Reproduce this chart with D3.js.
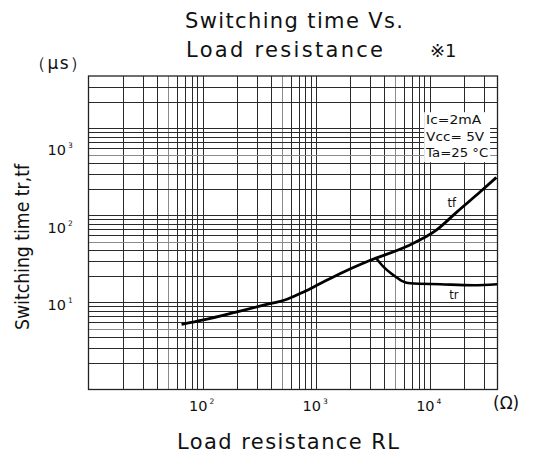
<!DOCTYPE html>
<html>
<head>
<meta charset="utf-8">
<script src="https://cdn.jsdelivr.net/npm/d3@7"></script>
<style>
  body { margin: 0; background: #fff; }
  svg { display: block; }
  text { font-family: "DejaVu Sans", "Noto Sans", sans-serif; fill: #111; }
</style>
</head>
<body>
<svg id="drawing_region"></svg>
<script>
// load resistance (ohm) and switching time (us)
const tfRes  = [66, 103, 203, 348, 560, 784, 1100, 1765, 3034, 6385, 11560, 17600, 28200, 39100];
const tfTime = [5.6, 6.3, 7.8, 9.3, 10.9, 13.2, 16.5, 22.4, 30.5, 44.3, 67.6, 110, 187, 273];
const trRes  = [3430, 3970, 4865, 5800, 6820, 12530, 24660, 39600];
const trTime = [32, 25.6, 20.5, 17.6, 16.6, 16.2, 15.8, 16.2];

const xTicks = [100, 1000, 10000];
const xTickExp = ["2", "3", "4"];
const yTicks = [10, 100, 1000];
const yTickExp = ["1", "2", "3"];
const conditions = ["Ic=2mA", "Vcc= 5V", "Ta=25 °C"];

const width = 534, height = 454;
const margin = {top: 76, right: 36.5, bottom: 64.5, left: 88.5};
const innerW = width - margin.left - margin.right;
const innerH = height - margin.top - margin.bottom;

const svg = d3.select('#drawing_region')
    .attr('width', width)
    .attr('height', height);

const chart = svg.append('g')
    .attr('transform', `translate(${margin.left}, ${margin.top})`);

const xscale = d3.scaleLog().domain([10, 40000]).range([0, innerW]);
const yscale = d3.scaleLog().domain([1, 4000]).range([innerH, 0]);
// the printed tick labels sit a bit off the decade lines in the original
const ylabelscale = d3.scaleLog().domain([10, 1000]).range([305 - margin.top, 150 - margin.top]);

// grid values 1..9 x 10^k inside the domain
function gridValues(lo, hi) {
    let vals = [];
    for (let k = -1; k <= 6; k++) {
        for (let m = 1; m <= 9; m++) {
            let v = m * Math.pow(10, k);
            if (v > lo * 1.0001 && v < hi * 0.9999) vals.push(v);
        }
    }
    return vals;
}
const xGrid = gridValues(10, 40000);
const yGrid = gridValues(1, 4000);
const gridColor = v => (String(v)[0] === '5') ? '#8a8a8a' : '#2a2a2a';

chart.selectAll('.vgrid')
    .data(xGrid)
    .enter()
    .append('line')
    .attr('x1', d => Math.round(xscale(d)) + 0.5)
    .attr('x2', d => Math.round(xscale(d)) + 0.5)
    .attr('y1', 0)
    .attr('y2', innerH)
    .attr('stroke', gridColor)
    .attr('stroke-width', 1)
    .attr('shape-rendering', 'crispEdges');

chart.selectAll('.hgrid')
    .data(yGrid)
    .enter()
    .append('line')
    .attr('y1', d => Math.round(yscale(d)) + 0.5)
    .attr('y2', d => Math.round(yscale(d)) + 0.5)
    .attr('x1', 0)
    .attr('x2', innerW)
    .attr('stroke', gridColor)
    .attr('stroke-width', 1)
    .attr('shape-rendering', 'crispEdges');

chart.append('rect')
    .attr('x', 0).attr('y', 0)
    .attr('width', innerW).attr('height', innerH)
    .attr('fill', 'none')
    .attr('stroke', '#222')
    .attr('stroke-width', 1.3);

// condition box
const boxX = xscale(10000) - 5, boxY = yscale(2000) + 10;
chart.append('rect')
    .attr('x', boxX).attr('y', boxY)
    .attr('width', 66).attr('height', 50)
    .attr('fill', '#fff');

chart.selectAll('.cond')
    .data(conditions)
    .enter()
    .append('text')
    .attr('x', boxX + 2)
    .attr('y', (d, i) => boxY + 12 + i * 16.5)
    .attr('font-size', 12)
    .attr('textLength', (d, i) => [55, 58, 62][i])
    .attr('lengthAdjust', 'spacingAndGlyphs')
    .text(d => d);

// curves
const line = d3.line()
    .x(d => xscale(d[0]))
    .y(d => yscale(d[1]))
    .curve(d3.curveMonotoneX);

chart.append('path')
    .datum(d3.zip(tfRes, tfTime))
    .attr('d', line)
    .attr('fill', 'none')
    .attr('stroke', '#000')
    .attr('stroke-width', 2.8)
    .attr('stroke-linejoin', 'round');

chart.append('path')
    .datum(d3.zip(trRes, trTime))
    .attr('d', line)
    .attr('fill', 'none')
    .attr('stroke', '#000')
    .attr('stroke-width', 2.6)
    .attr('stroke-linejoin', 'round');

chart.append('text')
    .attr('x', xscale(14500)).attr('y', yscale(125))
    .attr('font-size', 11.5)
    .text('tf');
chart.append('text')
    .attr('x', xscale(15000)).attr('y', yscale(11))
    .attr('font-size', 11.5)
    .text('tr');

// tick labels
const xt = chart.selectAll('.xtick')
    .data(xTicks)
    .enter()
    .append('text')
    .attr('x', d => xscale(d) - 13)
    .attr('y', innerH + 21)
    .attr('font-size', 14.5);
xt.append('tspan').text('10');
xt.append('tspan').attr('font-size', 7.5).attr('dy', -7).attr('dx', 2).text((d, i) => xTickExp[i]);

const yt = chart.selectAll('.ytick')
    .data(yTicks)
    .enter()
    .append('text')
    .attr('x', -41)
    .attr('y', d => ylabelscale(d) + 5)
    .attr('font-size', 14.5);
yt.append('tspan').text('10');
yt.append('tspan').attr('font-size', 7.5).attr('dy', -7).attr('dx', 2).text((d, i) => yTickExp[i]);

// titles and units
svg.append('text')
    .attr('x', 185).attr('y', 28)
    .attr('font-size', 21)
    .attr('textLength', 218)
    .attr('lengthAdjust', 'spacing')
    .text('Switching time  Vs.');
svg.append('text')
    .attr('x', 186).attr('y', 57)
    .attr('font-size', 21)
    .attr('textLength', 197)
    .attr('lengthAdjust', 'spacing')
    .text('Load resistance');
svg.append('text')
    .attr('x', 430).attr('y', 57)
    .attr('font-size', 18)
    .attr('font-family', 'Noto Sans CJK JP, sans-serif')
    .text('※1');
svg.append('text')
    .attr('x', 29).attr('y', 69)
    .attr('font-size', 17)
    .attr('font-family', 'Noto Sans CJK JP, sans-serif')
    .attr('textLength', 58)
    .attr('lengthAdjust', 'spacing')
    .text('（μs）');
svg.append('text')
    .attr('x', 493).attr('y', 409)
    .attr('font-size', 17)
    .attr('font-family', 'Liberation Serif, serif')
    .text('(Ω)');

svg.append('text')
    .attr('x', 177).attr('y', 449)
    .attr('font-size', 21)
    .attr('textLength', 222)
    .attr('lengthAdjust', 'spacing')
    .text('Load resistance RL');

svg.append('text')
    .attr('transform', 'translate(29, 247) rotate(-90)')
    .attr('text-anchor', 'middle')
    .attr('font-size', 20)
    .attr('font-family', 'Noto Sans, sans-serif')
    .attr('textLength', 166)
    .attr('lengthAdjust', 'spacingAndGlyphs')
    .text('Switching time tr,tf');
</script>
</body>
</html>
